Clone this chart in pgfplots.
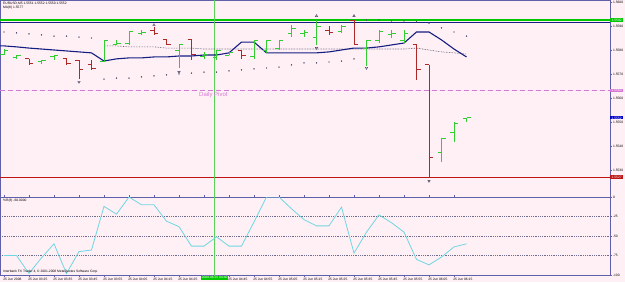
\documentclass[border=0pt]{standalone}
\usepackage{fontspec}
\setmainfont{Liberation Sans}
\usepackage{pgfplots}
\usepackage{pgfplotstable}
\pgfplotsset{compat=1.18}
\definecolor{bgpink}{RGB}{255,240,245}
\definecolor{framec}{RGB}{96,96,170}
\definecolor{upc}{RGB}{50,205,50}
\definecolor{dnc}{RGB}{175,40,40}
\definecolor{mac}{RGB}{20,30,130}
\definecolor{pivc}{RGB}{215,120,215}
\definecolor{wprc}{RGB}{110,215,225}
\definecolor{vgreen}{RGB}{90,210,90}
\definecolor{hgreen}{RGB}{0,200,0}
\definecolor{redline}{RGB}{190,20,20}
\definecolor{dotc}{RGB}{70,70,100}
\definecolor{gridc}{RGB}{110,110,140}
\newcommand{\tinyfont}{\fontsize{3.3}{3.6}\selectfont}
\pgfdeclareplotmark{otick}{\pgfpathmoveto{\pgfqpoint{-4pt}{0pt}}\pgfpathlineto{\pgfqpoint{0pt}{0pt}}\pgfusepathqstroke}
\pgfdeclareplotmark{ctick}{\pgfpathmoveto{\pgfqpoint{0pt}{0pt}}\pgfpathlineto{\pgfqpoint{4pt}{0pt}}\pgfusepathqstroke}

\pgfplotstableread{
i O H L C
0 1.55783 1.55804 1.55779 1.55800
1 1.55767 1.55779 1.55763 1.55779
3 1.55754 1.55758 1.55742 1.55758
4 1.55771 1.55779 1.55758 1.55779
8 1.55754 1.55842 1.55750 1.55838
9 1.55825 1.55842 1.55821 1.55829
10 1.55829 1.55879 1.55821 1.55879
11 1.55867 1.55883 1.55863 1.55871
14 1.55800 1.55821 1.55725 1.55821
16 1.55771 1.55792 1.55763 1.55783
17 1.55767 1.55800 1.55758 1.55796
18 1.55779 1.55792 1.55779 1.55788
20 1.55771 1.55842 1.55763 1.55838
21 1.55800 1.55842 1.55788 1.55838
22 1.55808 1.55842 1.55800 1.55838
23 1.55867 1.55904 1.55854 1.55888
24 1.55867 1.55883 1.55854 1.55871
25 1.55854 1.55925 1.55821 1.55900
27 1.55879 1.55904 1.55871 1.55900
29 1.55808 1.55842 1.55733 1.55838
30 1.55838 1.55883 1.55829 1.55879
31 1.55863 1.55883 1.55850 1.55867
32 1.55838 1.55883 1.55829 1.55867
35 1.55375 1.55433 1.55333 1.55433
36 1.55458 1.55500 1.55417 1.55496
37 1.55513 1.55517 1.55500 1.55517
}\upbars

\pgfplotstableread{
i O H L C
2 1.55763 1.55763 1.55738 1.55742
5 1.55763 1.55763 1.55738 1.55742
6 1.55758 1.55758 1.55679 1.55717
7 1.55738 1.55758 1.55717 1.55721
12 1.55883 1.55896 1.55863 1.55867
13 1.55842 1.55842 1.55821 1.55825
15 1.55842 1.55842 1.55758 1.55783
19 1.55796 1.55800 1.55763 1.55779
26 1.55883 1.55900 1.55863 1.55875
28 1.55921 1.55925 1.55821 1.55825
33 1.55821 1.55821 1.55675 1.55717
34 1.55738 1.55738 1.55267 1.55354
}\dnbars

\begin{document}
\begin{tikzpicture}
\useasboundingbox (0,0) rectangle (625pt,282pt);
\fill[bgpink] (0,0) rectangle (625pt,282pt);

% ---------------- price panel ----------------
\begin{axis}[
  at={(0pt,85pt)}, anchor=south west, scale only axis,
  width=610pt, height=197pt,
  xmin=-0.32, xmax=48.48, ymin=1.551875, ymax=1.560083,
  axis line style={framec, line width=0.8pt},
  axis background/.style={fill=bgpink},
  clip mode=individual,
  xtick=\empty,
  ytick={1.5530,1.5540,1.5550,1.5560,1.5570,1.5580,1.5590,1.5600},
  yticklabel pos=right,
  tick align=outside, major tick length=2pt,
  ytick style={framec, line width=0.5pt},
  yticklabel style={font=\tinyfont, text=black, inner sep=0.8pt,
    /pgf/number format/.cd, fixed, fixed zerofill, precision=4, assume math mode=true},
]
% horizontal levels
\addplot[hgreen, line width=1.3pt] coordinates {(-1,1.55925) (50,1.55925)};
\addplot[mac, line width=0.8pt] coordinates {(-1,1.55915) (50,1.55915)};
\addplot[pivc, line width=0.8pt, dash pattern=on 5pt off 3pt] coordinates {(-1,1.55633) (50,1.55633)};
\addplot[redline, line width=0.8pt] coordinates {(-1,1.55271) (50,1.55271)};
\addplot[vgreen, line width=0.6pt] coordinates {(16.85,1.5510) (16.85,1.5610)};

% parabolic SAR dots
\addplot[only marks, mark=*, mark size=0.45pt, dotc] coordinates {
(0,1.55875) (1,1.55871) (2,1.55867) (3,1.55863) (4,1.55858) (5,1.55858) (6,1.55854) (7,1.55850)
(8,1.55679) (9,1.55683) (10,1.55683) (11,1.55688) (12,1.55692) (13,1.55696) (14,1.55700)
(15,1.55704) (16,1.55708) (17,1.55708) (18,1.55713) (19,1.55717) (20,1.55721) (21,1.55725)
(22,1.55729) (23,1.55738) (24,1.55746) (25,1.55746) (26,1.55750) (27,1.55754) (28,1.55763)
(29,1.55925) (30,1.55925) (31,1.55921) (32,1.55921) (33,1.55917) (34,1.55912) (35,1.55892)
(36,1.55875) (37,1.55858)};

% dotted average
\addplot[dotc, line width=0.6pt, densely dotted] coordinates {
(8,1.55817) (9,1.55817) (10,1.55813) (11,1.55813) (12,1.55813) (13,1.55808) (14,1.55808)
(15,1.55808) (16,1.55804) (17,1.55804) (18,1.55804) (19,1.55804) (20,1.55804) (21,1.55804)
(22,1.55804) (23,1.55804) (24,1.55804) (25,1.55804) (26,1.55804) (27,1.55804) (28,1.55804)
(29,1.55804) (30,1.55804) (31,1.55804) (32,1.55804) (33,1.55808) (34,1.55800) (35,1.55792)
(36,1.55788) (37,1.55783)};

% moving average
\addplot[mac, line width=1.1pt] coordinates {
(-0.32,1.55817) (0,1.55817) (1,1.55813) (2,1.55808) (3,1.55804) (4,1.55800) (5,1.55796) (6,1.55792)
(7,1.55788) (8,1.55754) (9,1.55763) (10,1.55767) (11,1.55767) (12,1.55771) (13,1.55771)
(14,1.55775) (15,1.55775) (16,1.55779) (17,1.55779) (18,1.55788) (19,1.55833) (20,1.55833)
(21,1.55788) (22,1.55788) (23,1.55788) (24,1.55788) (25,1.55788) (26,1.55792) (27,1.55800)
(28,1.55808) (29,1.55808) (30,1.55813) (31,1.55821) (32,1.55829) (33,1.55875) (34,1.55875)
(35,1.55842) (36,1.55804) (37,1.55771)};

% OHLC bars
\addplot[only marks, mark=otick, upc, line width=0.9pt,
  error bars/.cd, y dir=both, y explicit, error mark=none,
  error bar style={upc, line width=0.9pt}]
  table[x=i, y=O, y error plus expr=\thisrow{H}-\thisrow{O}, y error minus expr=\thisrow{O}-\thisrow{L}] {\upbars};
\addplot[only marks, mark=ctick, upc, line width=0.9pt] table[x=i, y=C] {\upbars};
\addplot[only marks, mark=otick, dnc, line width=0.9pt,
  error bars/.cd, y dir=both, y explicit, error mark=none,
  error bar style={dnc, line width=0.9pt}]
  table[x=i, y=O, y error plus expr=\thisrow{H}-\thisrow{O}, y error minus expr=\thisrow{O}-\thisrow{L}] {\dnbars};
\addplot[only marks, mark=ctick, dnc, line width=0.9pt] table[x=i, y=C] {\dnbars};

% fractals
\addplot[only marks, mark=triangle, mark size=1.4pt, dotc, mark options={line width=0.4pt}] coordinates {
(12,1.55904) (25,1.55942) (28,1.55942)};
\addplot[only marks, mark=triangle, mark size=1.4pt, dotc, mark options={line width=0.4pt, rotate=180}] coordinates {
(6,1.55667) (14,1.55708) (25,1.55808) (29,1.55725) (34,1.55254)};

% texts
\node[anchor=north west, inner sep=0, font=\tinyfont, align=left] at ([xshift=3pt,yshift=-2pt]rel axis cs:0,1)
  {EURUSD,M5 1.5551 1.5552 1.5550 1.5552\\MA(8) 1.5577};
\node[anchor=north west, inner sep=0, font=\fontsize{6}{6}\selectfont, text=pivc] at (axis cs:15.6,1.55625) {Daily Pivot};
\node[anchor=west, fill=hgreen, text=white, inner sep=0.4pt, font=\tinyfont, minimum width=13pt] at ({rel axis cs:1,0}|-{axis cs:0,1.55925}) {1.5592};
\node[anchor=west, fill=pivc, text=white, inner sep=0.4pt, font=\tinyfont, minimum width=13pt] at ({rel axis cs:1,0}|-{axis cs:0,1.55633}) {1.5563};
\node[anchor=west, fill=blue!80!black, text=white, inner sep=0.4pt, font=\tinyfont, minimum width=13pt] at ({rel axis cs:1,0}|-{axis cs:0,1.55517}) {1.5552};
\node[anchor=west, fill=redline, text=white, inner sep=0.4pt, font=\tinyfont, minimum width=13pt] at ({rel axis cs:1,0}|-{axis cs:0,1.55271}) {1.5527};
\end{axis}

% ---------------- Williams %R panel ----------------
\begin{axis}[
  at={(0pt,7pt)}, anchor=south west, scale only axis,
  width=610pt, height=78pt,
  xmin=-0.32, xmax=48.48, ymin=-100, ymax=0,
  axis line style={framec, line width=0.8pt},
  axis background/.style={fill=bgpink},
  clip mode=individual,
  ytick={-100,-75,-50,-25,0},
  yticklabel pos=right,
  ymajorgrids, major grid style={dash pattern=on 0.6pt off 1.2pt, gridc, line width=0.45pt},
  tick align=outside, major tick length=2pt,
  tick style={framec, line width=0.5pt},
  yticklabel style={font=\tinyfont, text=black, inner sep=0.8pt, /pgf/number format/assume math mode=true},
  xtick={0,2,...,36},
  xticklabels={25 Jun 2008, 25 Jun 03:25, 25 Jun 03:35, 25 Jun 03:45, 25 Jun 03:55, 25 Jun 04:05,
    25 Jun 04:15, 25 Jun 04:25, {}, 25 Jun 04:45, 25 Jun 04:55, 25 Jun 05:05, 25 Jun 05:15,
    25 Jun 05:25, 25 Jun 05:35, 25 Jun 05:45, 25 Jun 05:55, 25 Jun 06:05, 25 Jun 06:15},
  xticklabel style={font=\tinyfont, text=black, anchor=north west, xshift=-1.5pt, inner sep=0.6pt},
]
\addplot[vgreen, line width=0.6pt] coordinates {(16.85,-110) (16.85,10)};
\addplot[wprc, line width=0.8pt] coordinates {
(0,-75) (1,-75) (2,-98) (3,-78) (4,-60) (5,-98) (6,-70) (7,-68) (8,-12) (9,-22)
(10,0) (11,-10) (12,-10) (13,-31) (14,-38) (15,-63) (16,-63) (17,-51) (18,-63) (19,-63)
(20,-32) (21,0) (22,0) (23,-15) (24,-29) (25,-37) (26,-37) (27,-13) (28,-72) (29,-45)
(30,-23) (31,-33) (32,-45) (33,-80) (34,-87) (35,-77) (36,-64) (37,-60)};
\node[anchor=north west, inner sep=0, font=\tinyfont] at ([xshift=3pt,yshift=-2pt]rel axis cs:0,1) {\%R(8) -60.0000};
\node[anchor=south west, inner sep=0, font=\tinyfont] at ([xshift=3pt,yshift=1.5pt]rel axis cs:0,0)
  {Interbank FX Trader 4, © 2001-2008 MetaQuotes Software Corp.};
\node[anchor=north, fill=hgreen, text=white, inner sep=0.6pt, font=\tinyfont] at ([yshift=-0.8pt]axis cs:16.85,-100) {2008.06.25 04:40};
\end{axis}
\end{tikzpicture}
\end{document}
